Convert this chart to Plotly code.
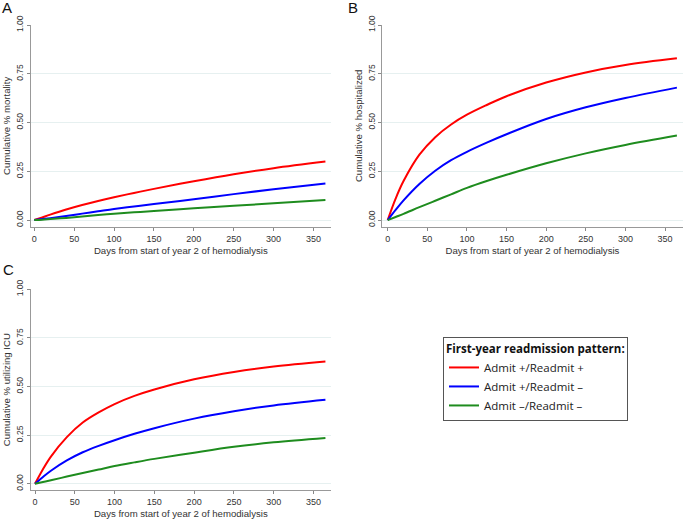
import plotly.graph_objects as go

days = [0, 10, 20, 40, 60, 80, 100, 125, 150, 200, 250, 300, 365]

series_names = ["Admit +/Readmit +", "Admit +/Readmit \u2013", "Admit \u2013/Readmit \u2013"]
series_colors = ["#ff0000", "#0000ff", "#1e8c1e"]

mortality_pp = [0, 0.014, 0.028, 0.054, 0.077, 0.098, 0.117, 0.139, 0.160, 0.199, 0.235, 0.266, 0.300]
mortality_pm = [0, 0.005, 0.010, 0.021, 0.033, 0.045, 0.057, 0.070, 0.082, 0.107, 0.133, 0.158, 0.188]
mortality_mm = [0, 0.002, 0.005, 0.011, 0.018, 0.026, 0.033, 0.040, 0.046, 0.060, 0.073, 0.086, 0.103]

hosp_pp = [0, 0.11, 0.20, 0.335, 0.425, 0.49, 0.54, 0.59, 0.635, 0.705, 0.757, 0.795, 0.829]
hosp_pm = [0, 0.052, 0.101, 0.185, 0.253, 0.307, 0.35, 0.397, 0.44, 0.518, 0.578, 0.626, 0.679]
hosp_mm = [0, 0.016, 0.032, 0.066, 0.099, 0.132, 0.165, 0.20, 0.232, 0.291, 0.342, 0.385, 0.433]

icu_pp = [0, 0.075, 0.14, 0.24, 0.315, 0.367, 0.41, 0.452, 0.485, 0.537, 0.575, 0.603, 0.629]
icu_pm = [0, 0.035, 0.067, 0.12, 0.162, 0.195, 0.224, 0.257, 0.286, 0.335, 0.373, 0.403, 0.432]
icu_mm = [0, 0.009, 0.018, 0.037, 0.055, 0.073, 0.091, 0.11, 0.128, 0.16, 0.19, 0.213, 0.236]

x_ticks = [0, 50, 100, 150, 200, 250, 300, 350]
y_ticks = [0, 0.25, 0.5, 0.75, 1.0]
y_tick_labels = ["0.00", "0.25", "0.50", "0.75", "1.00"]
x_title = "Days from start of year 2 of hemodialysis"
y_titles = ["Cumulative % mortality", "Cumulative % hospitalized", "Cumulative % utilizing ICU"]
panel_letters = ["A", "B", "C"]
legend_title = "First-year readmission pattern:"

W, H = 685, 522
FONT = "Liberation Sans, Arial, sans-serif"


def fx(px):
    return px / W


def fy(py):
    return 1 - py / H


panels = [
    dict(data=[mortality_pp, mortality_pm, mortality_mm], xd=[30.7, 331], yd=[226.7, 25], xr=[-4.5, 372], yr=[-0.034, 1.0], ax="x", ay="y"),
    dict(data=[hosp_pp, hosp_pm, hosp_mm], xd=[382, 683], yd=[226.7, 25], xr=[-7.2, 372.7], yr=[-0.034, 1.0], ax="x2", ay="y2"),
    dict(data=[icu_pp, icu_pm, icu_mm], xd=[30.7, 331], yd=[490, 289.3], xr=[-5.4, 372], yr=[-0.032, 1.0], ax="x3", ay="y3"),
]

fig = go.Figure()
layout = dict(
    width=W, height=H,
    margin=dict(l=0, r=0, t=0, b=0, autoexpand=False),
    paper_bgcolor="white", plot_bgcolor="white",
    font=dict(family=FONT, size=9, color="#333333"),
    showlegend=True,
)

for i, p in enumerate(panels):
    for j in range(3):
        fig.add_trace(go.Scatter(
            x=days, y=p["data"][j], mode="lines", name=series_names[j],
            line=dict(color=series_colors[j], width=2, shape="spline", smoothing=1.0),
            xaxis=p["ax"], yaxis=p["ay"], showlegend=(i == 0),
        ))
    sx = "" if i == 0 else str(i + 1)
    layout["xaxis" + sx] = dict(
        domain=[fx(p["xd"][0]), min(1.0, fx(p["xd"][1]))], range=p["xr"], automargin=False,
        anchor=p["ay"], tickvals=x_ticks, ticks="outside", ticklen=3, tickcolor="#888",
        showline=True, linecolor="#999999", linewidth=1, showgrid=False, zeroline=False,
        tickfont=dict(size=9, color="#333"),
        title=dict(text=x_title, font=dict(size=9.6, color="#333"), standoff=4),
    )
    layout["yaxis" + sx] = dict(
        domain=[fy(p["yd"][0]), fy(p["yd"][1])], range=p["yr"], automargin=False,
        anchor=p["ax"], tickvals=y_ticks, ticktext=y_tick_labels, tickangle=-90,
        ticks="outside", ticklen=3, tickcolor="#888",
        showline=True, linecolor="#999999", linewidth=1,
        showgrid=True, gridcolor="#e6f0f0", gridwidth=1, zeroline=False,
        tickfont=dict(size=8.5, color="#333"),
        title=dict(text=y_titles[i], font=dict(size=9.6, color="#333"), standoff=2),
    )

layout["legend"] = dict(
    x=fx(443), y=fy(337), xanchor="left", yanchor="top",
    bordercolor="#555555", borderwidth=1, bgcolor="white",
    font=dict(family="Open Sans, Liberation Sans, sans-serif", size=11.5, color="#222"),
    title=dict(text="<b>" + legend_title + "</b>", font=dict(size=11.5, color="#111")),
    tracegroupgap=0, itemwidth=30,
)

letter_pos = [(0, 0), (346, 0), (1, 262)]
annotations = []
for k, (lx, ly) in enumerate(letter_pos):
    annotations.append(dict(
        text=panel_letters[k], x=fx(lx), y=fy(ly), xref="paper", yref="paper",
        xanchor="left", yanchor="top", showarrow=False, yshift=3,
        font=dict(family=FONT, size=15, color="#111"),
    ))
layout["annotations"] = annotations

fig.update_layout(**layout)
# remove the browser's default 8px body margin so the figure fills the window
fig.write_html("out.html", config={"displayModeBar": False},
               post_script="document.body.style.margin='0';")
